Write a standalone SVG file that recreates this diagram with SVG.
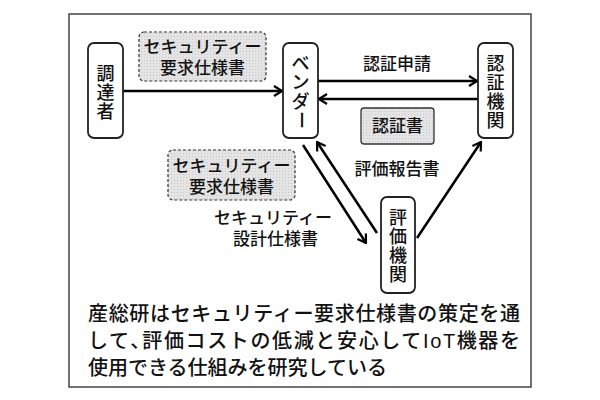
<svg xmlns="http://www.w3.org/2000/svg" width="600" height="400" viewBox="0 0 600 400">
<defs>
<pattern id="dots" width="3" height="3" patternUnits="userSpaceOnUse"><rect width="3" height="3" fill="#e4e4e4"/><rect width="1" height="1" fill="#c8c8c8"/></pattern>
<marker id="ah" markerWidth="10" markerHeight="12" refX="9" refY="6" orient="auto" markerUnits="userSpaceOnUse"><path d="M1,1 L9,6 L1,11" fill="none" stroke="#000" stroke-width="2.2"/></marker>
</defs>
<style>
text{font-family:"Liberation Sans","Noto Sans CJK JP",sans-serif;fill:#111;font-weight:500}
.node{fill:#fff;stroke:#222;stroke-width:1.8}
.dash{fill:url(#dots);stroke:#333;stroke-width:1.2;stroke-dasharray:3,2}
.con{stroke:#000;stroke-width:2.5;fill:none;marker-end:url(#ah)}
.lbl{font-size:17px}
.nt{font-size:18px}
.body{font-size:20px}
</style>
<rect width="600" height="400" fill="#fff"/>
<rect x="69" y="14" width="462" height="373" fill="none" stroke="#444" stroke-width="1.5"/>
<g id="connectors">
<line class="con" x1="123" y1="91" x2="282" y2="91"/>
<line class="con" x1="318" y1="81" x2="477" y2="81"/>
<line class="con" x1="478" y1="99" x2="319" y2="99"/>
<line class="con" x1="303" y1="145" x2="366" y2="243"/>
<line class="con" x1="377" y1="233" x2="317" y2="142"/>
<line class="con" x1="417" y1="238" x2="481" y2="142"/>
</g>
<g id="n-chotatsu"><rect class="node" x="88" y="43" width="35" height="95" rx="6"/>
<text class="nt" x="105.5" y="80" text-anchor="middle">調</text><text class="nt" x="105.5" y="99" text-anchor="middle">達</text><text class="nt" x="105.5" y="118" text-anchor="middle">者</text></g>
<g id="n-vendor"><rect class="node" x="283" y="43" width="35" height="95" rx="6"/>
<text class="nt" x="300.5" y="70" text-anchor="middle">ベ</text><text class="nt" x="300.5" y="89" text-anchor="middle">ン</text><text class="nt" x="300.5" y="108" text-anchor="middle">ダ</text><text class="nt" x="300.5" y="126" text-anchor="middle" transform="rotate(90 300.5 120)">ー</text></g>
<g id="n-ninsho"><rect class="node" x="478" y="43" width="35" height="95" rx="6"/>
<text class="nt" x="495.5" y="70" text-anchor="middle">認</text><text class="nt" x="495.5" y="89" text-anchor="middle">証</text><text class="nt" x="495.5" y="108" text-anchor="middle">機</text><text class="nt" x="495.5" y="127" text-anchor="middle">関</text></g>
<g id="n-hyoka"><rect class="node" x="381" y="197" width="34" height="96" rx="6"/>
<text class="nt" x="398" y="224" text-anchor="middle">評</text><text class="nt" x="398" y="243" text-anchor="middle">価</text><text class="nt" x="398" y="262" text-anchor="middle">機</text><text class="nt" x="398" y="281" text-anchor="middle">関</text></g>
<g id="doc1"><rect class="dash" x="139" y="32" width="127" height="49" rx="5"/>
<text class="lbl" x="202.5" y="53" text-anchor="middle">セキュリティー</text><text class="lbl" x="202.5" y="74" text-anchor="middle">要求仕様書</text></g>
<g id="doc2"><rect class="dash" x="168" y="150" width="127" height="50" rx="5"/>
<text class="lbl" x="231.5" y="172" text-anchor="middle">セキュリティー</text><text class="lbl" x="231.5" y="193" text-anchor="middle">要求仕様書</text></g>
<g id="cert"><rect x="361" y="108" width="73" height="36" rx="3" fill="url(#dots)" stroke="#333" stroke-width="1.3"/>
<text class="lbl" x="397.5" y="132" text-anchor="middle">認証書</text></g>
<text class="lbl" x="397" y="70" text-anchor="middle">認証申請</text>
<text class="lbl" x="397" y="175" text-anchor="middle">評価報告書</text>
<text class="lbl" x="332" y="224" text-anchor="end">セキュリティー</text>
<text class="lbl" x="318" y="245" text-anchor="end">設計仕様書</text>
<text class="body" x="88" y="321" textLength="432">産総研はセキュリティー要求仕様書の策定を通</text>
<text class="body" x="88" y="348" textLength="432">して､評価コストの低減と安心してIoT機器を</text>
<text class="body" x="88" y="375">使用できる仕組みを研究している</text>
</svg>
